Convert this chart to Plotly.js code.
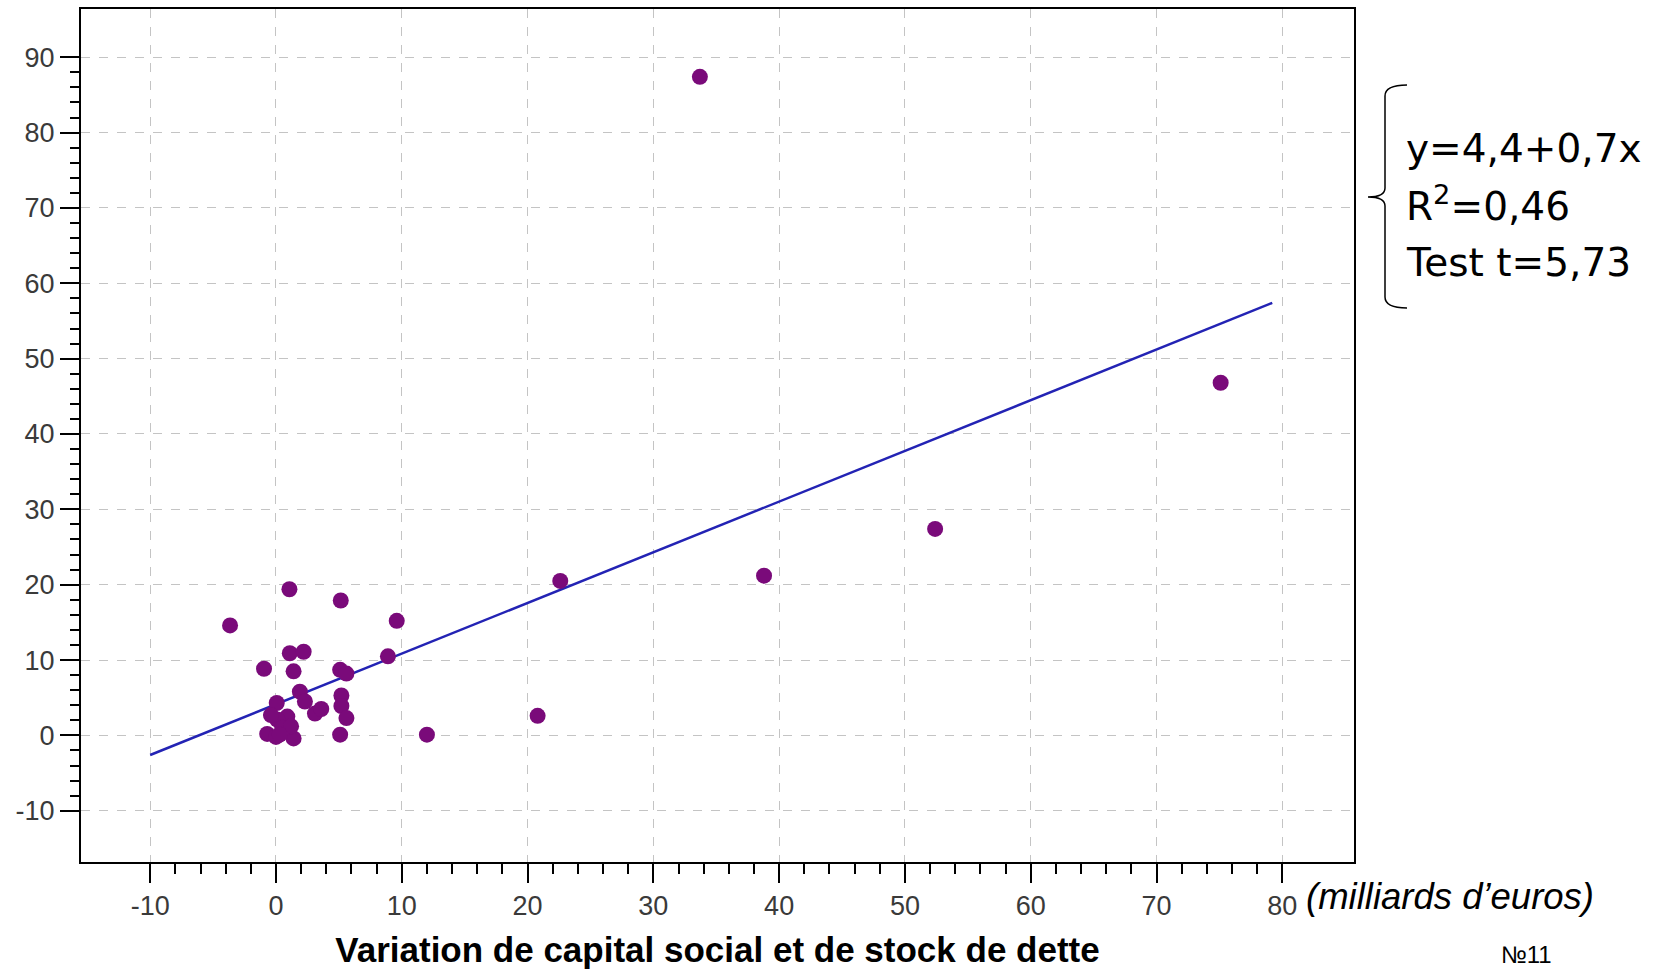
<!DOCTYPE html>
<html>
<head>
<meta charset="utf-8">
<script src="https://cdn.plot.ly/plotly-3.0.1.min.js"></script>
<style>
  html, body { margin: 0; padding: 0; background: #ffffff; }
  #chart { width: 1667px; height: 970px; }
</style>
</head>
<body>
<div id="chart"></div>
<script>
// Scatter points (milliards d'euros)
const xVals = [33.7, 75.1, 52.4, 38.8, 22.6, 20.8, 12.0, 9.6, 8.9, 5.15, 1.07, -3.65, -0.95,
               1.1, 2.2, 1.4, 5.1, 5.6, 1.9, 2.3, 3.1, 3.6, 5.2, 5.2, 5.6, 5.1,
               0.06, -0.7, 0.0, 1.4, 0.9, 0.1, -0.4, 0.5, 1.2, 0.3];
const yVals = [87.4, 46.8, 27.4, 21.2, 20.5, 2.6, 0.1, 15.2, 10.5, 17.9, 19.4, 14.6, 8.85,
               10.9, 11.1, 8.5, 8.7, 8.2, 5.8, 4.5, 2.9, 3.5, 5.3, 3.9, 2.3, 0.1,
               4.3, 0.2, -0.2, -0.4, 2.5, 2.1, 2.7, 1.0, 1.2, 0.1];

// Regression line end points
const lineX = [-10, 79.2];
const lineY = [-2.6, 57.4];

// Tick labels
const xTicks = [-10, 0, 10, 20, 30, 40, 50, 60, 70, 80];
const yTicks = [-10, 0, 10, 20, 30, 40, 50, 60, 70, 80, 90];

const xMinor = [];
for (let v = xTicks[0]; v <= xTicks[xTicks.length - 1]; v += 2) if (v % 10 !== 0) xMinor.push(v);
const yMinor = [];
for (let v = yTicks[0]; v <= yTicks[yTicks.length - 1]; v += 2) if (v % 10 !== 0) yMinor.push(v);

const tickFont = { family: 'Liberation Sans, Arial, sans-serif', size: 27, color: '#3a3a3a' };

const traces = [
  {
    x: lineX, y: lineY, type: 'scatter', mode: 'lines',
    line: { color: '#2323b4', width: 2.5 }, hoverinfo: 'skip', showlegend: false
  },
  {
    x: xVals, y: yVals, type: 'scatter', mode: 'markers',
    marker: { color: '#7a0a7a', size: 16, line: { width: 0 } }, showlegend: false
  }
];

const axisCommon = {
  showline: true, mirror: true, linecolor: '#000000', linewidth: 2,
  ticks: 'outside', ticklen: 19, tickwidth: 2, tickcolor: '#000000',
  showgrid: true, gridcolor: '#c4c4c4', gridwidth: 1, griddash: 'dash',
  zeroline: false, tickfont: tickFont, tickmode: 'array'
};

const X = v => (v - 81) / 1273;
const Y = v => (862 - v) / 853;

const brace = 'M ' + X(1407) + ',' + Y(85) +
  ' Q ' + X(1385) + ',' + Y(85) + ' ' + X(1385) + ',' + Y(96) +
  ' L ' + X(1385) + ',' + Y(188) +
  ' Q ' + X(1385) + ',' + Y(197) + ' ' + X(1368) + ',' + Y(197) +
  ' Q ' + X(1385) + ',' + Y(197) + ' ' + X(1385) + ',' + Y(206) +
  ' L ' + X(1385) + ',' + Y(297) +
  ' Q ' + X(1385) + ',' + Y(308) + ' ' + X(1407) + ',' + Y(308);

const annFont = { family: 'DejaVu Sans, Arial, sans-serif', size: 39, color: '#000000' };

const layout = {
  width: 1667, height: 970,
  margin: { l: 81, r: 313, t: 9, b: 108 },
  paper_bgcolor: '#ffffff', plot_bgcolor: '#ffffff',
  xaxis: Object.assign({}, axisCommon, {
    range: [-15.5, 85.7], tickvals: xTicks, ticktext: xTicks.map(String),
    minor: { tickmode: 'array', tickvals: xMinor, ticks: 'outside', ticklen: 10, tickwidth: 2, tickcolor: '#000000', showgrid: false },
    title: { text: 'Variation de capital social et de stock de dette', standoff: 17,
             font: { family: 'Liberation Sans, Arial, sans-serif', size: 35, color: '#000000', weight: 'bold' } }
  }),
  yaxis: Object.assign({}, axisCommon, {
    range: [-16.8, 96.4], tickvals: yTicks, ticktext: yTicks.map(String),
    minor: { tickmode: 'array', tickvals: yMinor, ticks: 'outside', ticklen: 9, tickwidth: 2, tickcolor: '#000000', showgrid: false }
  }),
  shapes: [
    { type: 'path', xref: 'paper', yref: 'paper', path: brace, line: { color: '#000000', width: 1.5 } }
  ],
  annotations: [
    { xref: 'paper', yref: 'paper', x: X(1404), y: Y(149), xanchor: 'left', yanchor: 'middle', showarrow: false,
      text: 'y=4,4+0,7x', font: annFont },
    { xref: 'paper', yref: 'paper', x: X(1404), y: Y(204), xanchor: 'left', yanchor: 'middle', showarrow: false,
      text: 'R<sup>2</sup>=0,46', font: annFont },
    { xref: 'paper', yref: 'paper', x: X(1404), y: Y(262), xanchor: 'left', yanchor: 'middle', showarrow: false,
      text: 'Test t=5,73', font: annFont },
    { xref: 'paper', yref: 'paper', x: X(1304), y: Y(896), xanchor: 'left', yanchor: 'middle', showarrow: false,
      text: '<i>(milliards d’euros)</i>', font: { family: 'Liberation Sans, Arial, sans-serif', size: 36.5, color: '#000000' } },
    { xref: 'paper', yref: 'paper', x: X(1526), y: Y(954), xanchor: 'center', yanchor: 'middle', showarrow: false,
      text: '№11', font: { family: 'Liberation Sans, Arial, sans-serif', size: 24, color: '#000000' } }
  ]
};

Plotly.newPlot('chart', traces, layout, { displayModeBar: false, staticPlot: true });
</script>
</body>
</html>
